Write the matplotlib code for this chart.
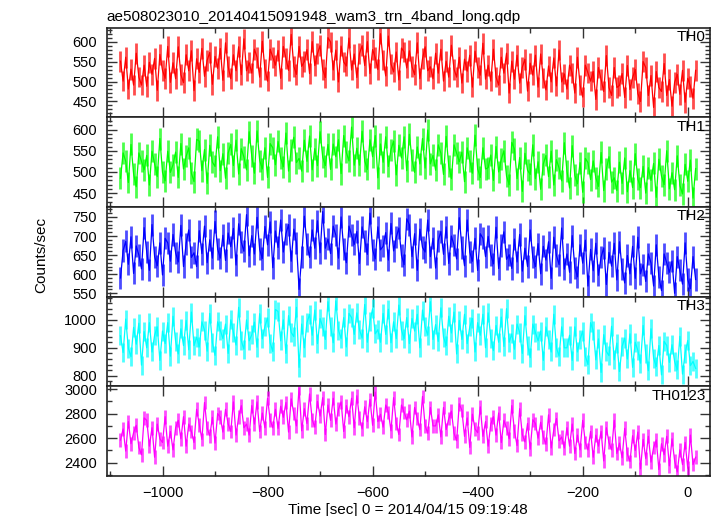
import numpy as np
import matplotlib
matplotlib.use("Agg")
import matplotlib.pyplot as plt
from matplotlib.ticker import MultipleLocator

plt.rcParams['font.family'] = ['Liberation Sans', 'DejaVu Sans']

title = "ae508023010_20140415091948_wam3_trn_4band_long.qdp"
xlabel = "Time [sec] 0 = 2014/04/15 09:19:48"
ylabel = "Counts/sec"
band_names = ["TH0", "TH1", "TH2", "TH3", "TH0123"]
band_colors = ["#ff0000", "#00ff00", "#0000ff", "#00ffff", "#ff00ff"]
band_errors = [26, 26, 29, 34, 56]

t_start, t_stop, t_step = -1080, 15, 5
time = np.arange(t_start, t_stop + 1, t_step)

th0 = [
551,501,561,481,531,491,571,511,491,541, 488,548,518,558,478,568,528,508,588,498,
547,507,587,517,497,567,527,577,477,557, 523,583,513,553,573,493,563,533,583,503,
597,537,507,567,527,587,517,607,527,547, 521,581,561,511,601,531,501,581,561,541,
578,508,588,558,528,618,538,518,588,538, 550,580,520,600,540,570,590,530,510,610,
599,529,579,499,589,549,539,609,529,569, 510,570,590,540,600,520,580,560,530,620,
554,514,614,544,524,574,504,584,574,534, 577,537,517,597,507,557,587,527,537,507,
571,521,581,501,551,511,591,531,511,561, 496,556,526,566,486,576,536,516,596,506,
541,501,581,511,491,561,521,571,471,551, 506,566,496,536,556,476,546,516,566,486,
569,509,479,539,499,559,489,579,499,519, 481,541,521,471,561,491,461,541,521,501,
525,455,535,505,475,565,485,465,535,485, 490,520,460,540,480,510,530,470,450,550,
535,465,515,435,525,485,475,545,465,505, 438,498,518,468,528,448,508,488,458,528]

th1 = [
485,545,525,475,565,495,465,545,525,505, 539,469,549,519,489,579,499,479,549,499,
517,547,487,567,507,537,557,497,477,577, 573,503,553,473,563,523,513,583,503,543,
485,545,565,515,575,495,555,535,505,595, 537,497,597,527,507,557,487,567,557,517,
572,532,512,592,502,552,582,522,532,502, 575,525,585,505,555,515,595,535,515,565,
506,566,536,576,496,586,546,526,606,516, 556,516,596,526,506,576,536,586,486,566,
523,583,513,553,573,493,563,533,583,503, 589,529,499,559,519,579,509,599,519,539,
504,564,544,494,584,514,484,564,544,524, 547,477,557,527,497,587,507,487,557,507,
510,540,480,560,500,530,550,490,470,570, 554,484,534,454,544,504,494,564,484,524,
459,519,539,489,549,469,529,509,479,569, 502,462,562,492,472,522,452,532,522,482,
526,486,466,546,456,506,536,476,486,456, 523,473,533,453,503,463,543,483,463,513,
450,510,480,520,440,530,490,470,550,460, 498,458,538,468,448,518,478,528,438,508]

th2 = [
590,662,686,626,698,602,674,650,614,722, 658,610,730,646,622,682,598,694,682,634,
704,656,632,728,620,680,716,644,656,620, 714,654,726,630,690,642,738,666,642,702,
636,708,672,720,624,732,684,660,756,648, 701,653,749,665,641,725,677,737,617,713,
670,742,658,706,730,634,718,682,560,646, 752,680,644,716,668,740,656,764,668,692,
654,726,702,642,750,666,630,726,702,678, 712,628,724,688,652,760,664,640,724,664,
673,709,637,733,661,697,721,649,625,745, 730,646,706,610,718,670,658,742,646,694,
616,688,712,652,724,628,700,676,640,748, 670,622,742,658,634,694,610,706,694,646,
699,651,627,723,615,675,711,639,651,615, 692,632,704,608,668,620,716,644,620,680,
601,673,637,685,589,697,649,625,721,613, 653,605,701,617,593,677,629,689,569,665,
609,681,597,645,669,573,657,621,681,585, 685,613,577,649,601,673,589,697,601,625,
581,653,629,569,677,593,557,653,629,605, 634,550,646,610,574,682,586,562,646,586]

th3 = [
943,883,1003,898,868,973,913,988,838,958, 900,990,885,945,975,855,960,915,990,870,
1013,923,878,968,908,998,893,1028,908,938, 903,993,963,888,1023,918,873,993,963,933,
985,880,1000,955,910,1045,925,895,1000,925, 947,992,902,1022,932,977,1007,917,887,1037,
1030,925,1000,880,1015,955,940,1045,830,985, 900,990,1020,945,1035,915,1005,975,930,1065,
978,918,1068,963,933,1008,903,1023,1008,948, 1025,965,935,1055,920,995,1040,950,965,920,
1023,948,1038,918,993,933,1053,963,933,1008, 915,1005,960,1020,900,1035,975,945,1065,930,
983,923,1043,938,908,1013,953,1028,878,998, 930,1020,915,975,1005,885,990,945,1020,900,
1025,935,890,980,920,1010,905,1040,920,950, 895,985,955,880,1015,910,865,985,955,925,
960,855,975,930,885,1020,900,870,975,900, 900,945,855,975,885,930,960,870,840,990,
962,857,932,812,947,887,872,977,857,917, 815,905,935,860,950,830,920,890,845,980,
878,818,968,863,833,908,803,923,908,848, 911,851,821,941,806,881,926,836,851,826]

th0123 = [
2585,2675,2495,2735,2555,2645,2705,2525,2465,2765, 2745,2535,2685,2445,2715,2595,2565,2775,2535,2655,
2505,2685,2745,2595,2775,2535,2715,2655,2565,2835, 2710,2590,2890,2680,2620,2770,2560,2800,2770,2650,
2835,2715,2655,2895,2625,2775,2865,2685,2715,2625, 2865,2715,2895,2655,2805,2685,2925,2745,2685,2835,
2680,2860,2770,2890,2650,2920,2800,2700,3010,2660, 2840,2720,2960,2750,2690,2900,2780,2930,2630,2870,
2745,2925,2715,2835,2895,2655,2865,2775,2925,2685, 2945,2765,2675,2855,2735,2915,2705,2975,2735,2795,
2690,2870,2810,2660,2930,2720,2630,2870,2810,2750, 2820,2610,2850,2760,2670,2940,2700,2640,2850,2700,
2700,2790,2610,2850,2670,2760,2820,2640,2580,2880, 2825,2615,2765,2525,2795,2675,2645,2855,2615,2735,
2535,2715,2775,2625,2805,2565,2745,2685,2595,2865, 2660,2540,2840,2630,2570,2720,2510,2750,2720,2600,
2730,2610,2550,2790,2520,2670,2760,2580,2610,2520, 2685,2535,2715,2475,2625,2505,2745,2565,2505,2655,
2445,2625,2535,2655,2415,2685,2565,2505,2745,2475, 2560,2440,2680,2470,2410,2620,2500,2650,2350,2590,
2435,2615,2405,2525,2585,2345,2555,2465,2615,2375, 2595,2415,2325,2505,2385,2565,2355,2625,2385,2445]

series = [th0, th1, th2, th3, th0123]
y_limits = [(410, 635), (417, 629), (541, 776), (762, 1083), (2292, 3022)]
y_major = [50, 50, 50, 100, 200]
y_minor = [10, 10, 10, 20, 100]
x_limits = (-1106, 42)

fig = plt.figure(figsize=(7.17, 5.16), dpi=100)
gs = fig.add_gridspec(5, 1, left=0.149, right=0.990, bottom=0.0775, top=0.9463, hspace=0)
axes = [fig.add_subplot(gs[i, 0]) for i in range(5)]

for i, ax in enumerate(axes):
    c = band_colors[i]
    ax.errorbar(time, series[i], yerr=band_errors[i], fmt='none',
                ecolor=c, elinewidth=2.0, alpha=0.7, capsize=0)
    ax.plot(time, series[i], color=c, lw=0.9)
    ax.set_xlim(*x_limits)
    ax.set_ylim(*y_limits[i])
    ax.yaxis.set_major_locator(MultipleLocator(y_major[i]))
    ax.yaxis.set_minor_locator(MultipleLocator(y_minor[i]))
    ax.xaxis.set_major_locator(MultipleLocator(200))
    ax.xaxis.set_minor_locator(MultipleLocator(100))
    ax.tick_params(which='both', direction='in', top=True, right=True,
                   color='#333333', width=1.0)
    ax.tick_params(which='major', length=7, labelsize=10.5, pad=7)
    ax.tick_params(which='minor', length=3.5)
    for s in ax.spines.values():
        s.set_linewidth(1.2)
        s.set_color('#222222')
    if i < 4:
        ax.tick_params(labelbottom=False)
    ax.text(0.993, 0.975, band_names[i], transform=ax.transAxes,
            ha='right', va='top', fontsize=11)

axes[-1].set_xlabel(xlabel, fontsize=11, labelpad=2)
fig.text(0.058, 0.505, ylabel, rotation=90, ha='center', va='center', fontsize=11)
fig.text(0.149, 0.959, title, ha='left', va='baseline', fontsize=11)

fig.savefig("out.png", dpi=100)
